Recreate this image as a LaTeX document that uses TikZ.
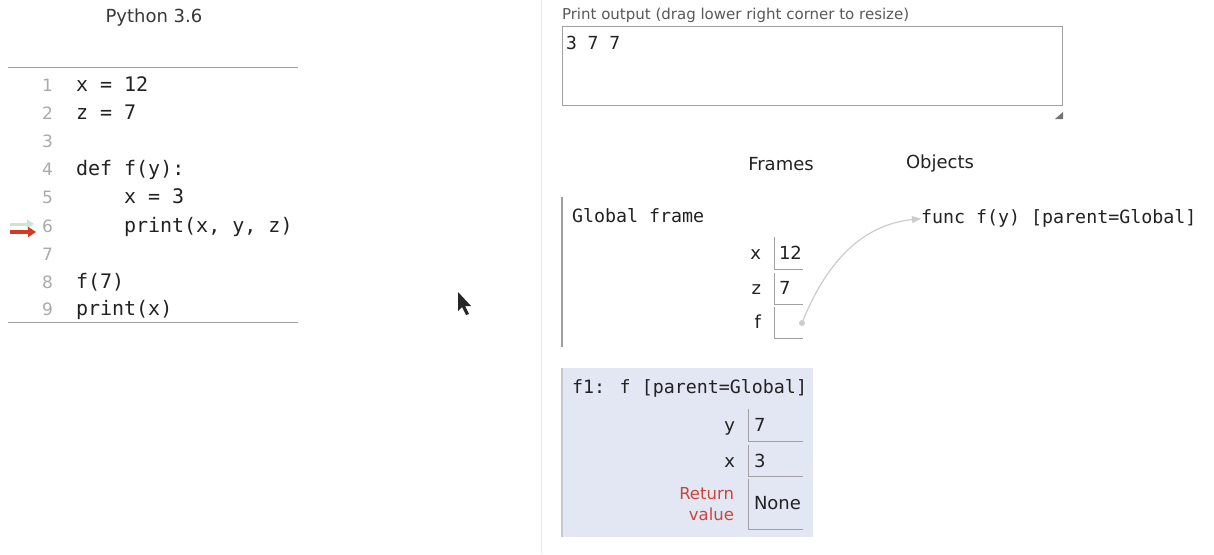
\documentclass[tikz,border=0pt]{standalone}
\usepackage{fontspec}
\setmainfont{DejaVu Sans}
\newfontfamily\codefont{DejaVu Sans Mono}
\usetikzlibrary{arrows.meta}
\definecolor{txt}{HTML}{222222}
\definecolor{lnum}{HTML}{AAAAAA}
\definecolor{rule}{HTML}{A0A0A0}
\definecolor{framefill}{HTML}{E3E7F3}
\definecolor{frameedge}{HTML}{C4C8D2}
\definecolor{retred}{HTML}{C8463C}
\definecolor{ptrgray}{HTML}{CCCCCC}
\definecolor{curgreen}{HTML}{C9E6D2}
\definecolor{curred}{HTML}{D43A22}
\tikzset{
  every node/.style={inner sep=0pt, outer sep=0pt, text=txt},
  txtshift/.style={yshift=-4pt},
  codeline/.style={txtshift, anchor=mid west, font=\codefont\fontsize{20}{24}\selectfont},
  linenum/.style={txtshift, anchor=mid east, text=lnum, font=\fontsize{17}{20}\selectfont},
  monolabel/.style={txtshift, anchor=mid west, font=\codefont\fontsize{18.3}{22}\selectfont},
  sanslabel/.style={font=\fontsize{18}{22}\selectfont},
  varname/.style={txtshift, anchor=mid east, font=\fontsize{18}{22}\selectfont},
  varval/.style={txtshift, anchor=mid west, font=\fontsize{18}{22}\selectfont},
  valbox/.style={minimum width=29pt},
  boxline/.style={draw=rule, line width=1pt},
}
\begin{document}
\begin{tikzpicture}[x=1pt,y=-1pt]
\fill[white] (0,0) rectangle (1214,554);
\useasboundingbox (0,0) rectangle (1214,554);
% ---------- code panel ----------
\node[sanslabel, text=txt!90] (title) at (154,18) {Python 3.6};
\draw[rule, line width=1pt] (8,67) coordinate (rtl) -- (298,67) coordinate (rtr);
\draw[rule, line width=1pt] (8,322) coordinate (rbl) -- (298,322) coordinate (rbr);
\foreach \n/\y in {1/85,2/113,3/141,4/169,5/197,6/226,7/254,8/282,9/309}{
  \node[linenum] (n\n) at (53,\y) {\n};
}
\node[codeline] (l1) at (76,85) {x = 12};
\node[codeline] (l2) at (76,113) {z = 7};
\node[codeline] (l4) at (76,169) {def f(y):};
\node[codeline] (l5) at (124,197) {x = 3};
\node[codeline] (l6) at (124,226) {print(x, y, z)};
\node[codeline] (l8) at (76,282) {f(7)};
\node[codeline] (l9) at (76,309) {print(x)};
% step arrows
\coordinate (ga) at (10,224);
\coordinate (gb) at (34,224);
\coordinate (ra) at (10,232);
\coordinate (rb) at (36,232);
\draw[curgreen, line width=3pt, -{Triangle[length=7pt,width=9pt]}] (ga) -- (gb);
\draw[curred, line width=3.5pt, -{Triangle[length=8pt,width=10pt]}] (ra) -- (rb);
% mouse cursor
\fill[black!85] (458,292) -- (458,311) -- (462,307) -- (466,315) -- (469,314) -- (465,306) -- (471,306) -- cycle;
% ---------- right panel ----------
\draw[black!8, line width=1pt] (541,0) -- (541,554);
\node[txtshift, anchor=mid west, text=black!65, font=\fontsize{15}{18}\selectfont] (plabel) at (562,13) {Print output (drag lower right corner to resize)};
\node[draw=rule, line width=1pt, minimum width=500pt, minimum height=79pt, anchor=north west] (out) at (562,26) {};
\node[txtshift, anchor=mid west, font=\codefont\fontsize{18}{22}\selectfont] (outtxt) at (566,43) {3 7 7};
\fill[black!55] (1055,119) -- (1063,119) -- (1063,112) -- cycle;
\node[sanslabel] (frames) at (781,164) {Frames};
\node[sanslabel] (objects) at (940,164) {Objects};
% global frame
\draw[rule, line width=1.2pt] (562,197) -- (562,347);
\node[monolabel] (gframe) at (572,216) {Global frame};
\node[varname] (gxn) at (761,253) {x};
\node[varname] (gzn) at (761,288) {z};
\node[varname] (gfn) at (761,322) {f};
\node[valbox, minimum height=32pt, anchor=north west] (gx) at (774,237) {};
\node[valbox, minimum height=31pt, anchor=north west] (gz) at (774,273) {};
\node[valbox, minimum height=31pt, anchor=north west] (gf) at (774,307) {};
\foreach \b in {gx,gz,gf}{
  \draw[boxline] (\b.north west) -- (\b.south west) -- (\b.south east);
}
\node[varval] (gxv) at (779,253) {12};
\node[varval] (gzv) at (779,288) {7};
\fill[ptrgray] (802,323) circle (3pt);
\coordinate (fdot) at (802,323);
\node[monolabel] (func) at (921,217) {func f(y) [parent=Global]};
\draw[ptrgray, line width=1.2pt, -{Triangle[length=9pt,width=7pt]}] (fdot) .. controls (825,265) and (860,225) .. (func.west);
% f1 frame
\node[fill=framefill, minimum width=251pt, minimum height=169pt, anchor=north west] (f1) at (562,368) {};
\draw[frameedge, line width=1.5pt] (f1.north west) -- (f1.south west);
\node[monolabel] (f1title) at (572,387) {f1: f [parent=Global]};
\node[varname] (fyn) at (735,425) {y};
\node[varname] (fxn) at (735,461) {x};
\node[anchor=east, align=right, text=retred, font=\fontsize{16.5}{21}\selectfont] (ret) at (734,504) {Return\\value};
\node[valbox, minimum width=55pt, minimum height=32pt, anchor=north west] (fy) at (748,409) {};
\node[valbox, minimum width=55pt, minimum height=31pt, anchor=north west] (fx) at (748,445) {};
\node[valbox, minimum width=55pt, minimum height=50pt, anchor=north west] (fr) at (748,479) {};
\foreach \b in {fy,fx,fr}{
  \draw[boxline] (\b.north west) -- (\b.south west) -- (\b.south east);
}
\node[varval] (fyv) at (754,425) {7};
\node[varval] (fxv) at (754,461) {3};
\node[varval] (frv) at (754,503) {None};
\end{tikzpicture}
\end{document}
